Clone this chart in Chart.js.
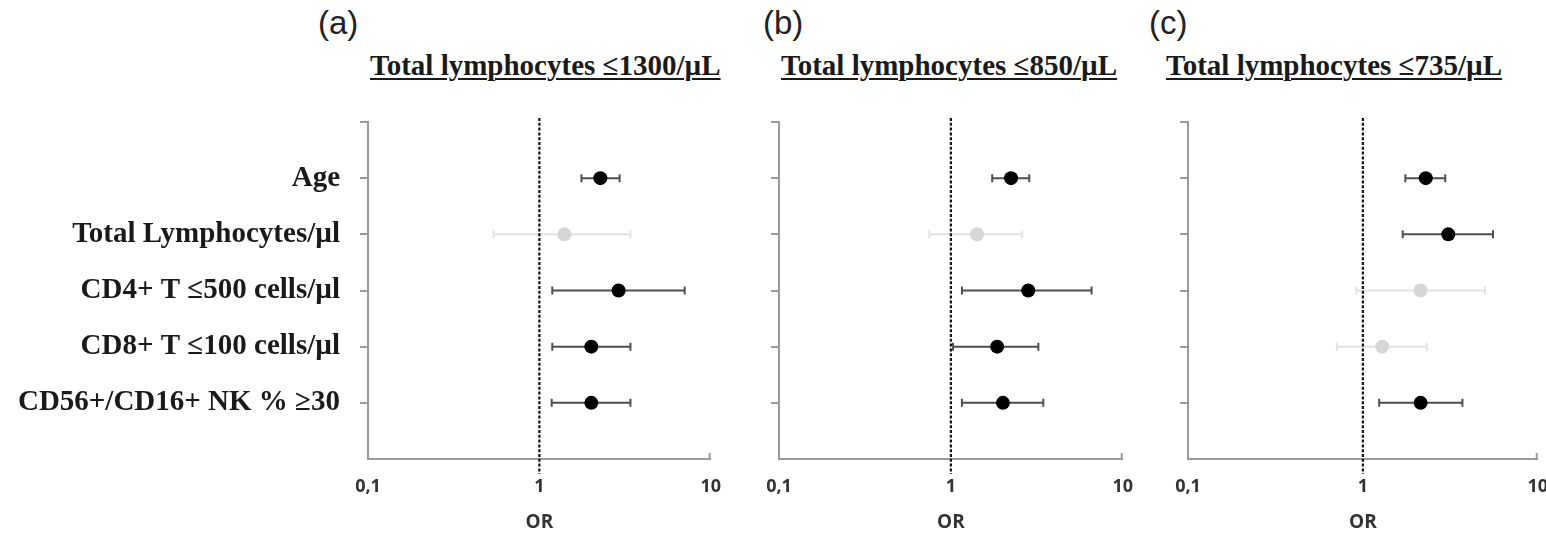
<!DOCTYPE html>
<html lang="en">
<head>
    <meta charset="UTF-8">
    <title>Odds ratios - total lymphocyte thresholds</title>
    <script src="https://cdn.jsdelivr.net/npm/chart.js@4.4.1/dist/chart.umd.min.js"></script>
    <style>
        body { margin: 0; width: 1546px; height: 534px; overflow: hidden; background: #fff; position: relative; }
        canvas { position: absolute; top: 0; }
        .letter { position: absolute; top: 5px; font-family: "Liberation Sans", Arial, sans-serif; font-size: 33px; line-height: 36px; color: #222; }
        .title { position: absolute; top: 49px; font-family: "Liberation Serif", "Times New Roman", serif; font-weight: bold; font-size: 29px; line-height: 33px; color: #1a1a1a; text-decoration: underline; text-decoration-thickness: 2px; text-underline-offset: 3px; white-space: nowrap; }
    </style>
</head>
<body>
    <div class="letter" style="left:318px">(a)</div>
    <div class="title" style="left:370px">Total lymphocytes ≤1300/µL</div>
    <div class="letter" style="left:763px">(b)</div>
    <div class="title" style="left:781px">Total lymphocytes ≤850/µL</div>
    <div class="letter" style="left:1149px">(c)</div>
    <div class="title" style="left:1166px">Total lymphocytes ≤735/µL</div>

    <canvas id="chartA" width="738" height="534" style="left:0"></canvas>
    <canvas id="chartB" width="420" height="534" style="left:730px"></canvas>
    <canvas id="chartC" width="425" height="534" style="left:1140px"></canvas>

    <script>
    // row labels, top to bottom
    const categories = ['Age', 'Total Lymphocytes/µl', 'CD4+ T ≤500 cells/µl', 'CD8+ T ≤100 cells/µl', 'CD56+/CD16+ NK % ≥30'];
    const tickValues = [0.1, 1, 10];
    const tickLabels = ['0,1', '1', '10'];

    // (a) total lymphocytes <= 1300/uL
    const orA   = [2.27, 1.40, 2.90, 2.01, 2.01];
    const lowA  = [1.76, 0.54, 1.19, 1.19, 1.18];
    const highA = [2.94, 3.40, 7.05, 3.40, 3.40];
    const sigA  = [1, 0, 1, 1, 1];

    // (b) total lymphocytes <= 850/uL
    const orB   = [2.24, 1.42, 2.82, 1.86, 2.01];
    const lowB  = [1.74, 0.75, 1.16, 1.03, 1.16];
    const highB = [2.86, 2.60, 6.59, 3.23, 3.45];
    const sigB  = [1, 0, 1, 1, 1];

    // (c) total lymphocytes <= 735/uL
    const orC   = [2.29, 3.08, 2.14, 1.29, 2.14];
    const lowC  = [1.75, 1.69, 0.92, 0.71, 1.24];
    const highC = [2.96, 5.55, 4.99, 2.32, 3.71];
    const sigC  = [1, 1, 0, 0, 1];

    const axisGray = '#9a9a9a';

    // error bars + dashed reference line at OR = 1
    const forestPlugin = {
        id: 'forest',
        beforeDatasetsDraw(chart, args, opts) {
            const ctx = chart.ctx;
            const x = chart.scales.x, y = chart.scales.y;
            ctx.save();
            ctx.lineWidth = 2;
            opts.low.forEach(function(lo, i) {
                const py = y.getPixelForValue(i + 1);
                const x0 = x.getPixelForValue(lo);
                const x1 = x.getPixelForValue(opts.high[i]);
                ctx.strokeStyle = opts.sig[i] ? '#4e4e4e' : '#e2e2e2';
                ctx.beginPath();
                ctx.moveTo(x0, py); ctx.lineTo(x1, py);
                ctx.moveTo(x0, py - 4); ctx.lineTo(x0, py + 4);
                ctx.moveTo(x1, py - 4); ctx.lineTo(x1, py + 4);
                ctx.stroke();
            });
            // small upward tick at the right end of the x axis
            ctx.strokeStyle = axisGray;
            ctx.beginPath();
            ctx.moveTo(x.right - 1, y.bottom); ctx.lineTo(x.right - 1, y.bottom - 6);
            ctx.stroke();
            // reference line
            const px = x.getPixelForValue(1);
            ctx.strokeStyle = '#111';
            ctx.lineWidth = 2.2;
            ctx.setLineDash([3, 1.8]);
            ctx.beginPath();
            ctx.moveTo(px, y.top - 4); ctx.lineTo(px, y.bottom + 15);
            ctx.stroke();
            ctx.restore();
        }
    };

    function makeChart(id, or, low, high, sig, showLabels, yWidth) {
        new Chart(document.getElementById(id), {
            type: 'scatter',
            data: {
                datasets: [{
                    data: or.map(function(v, i) { return { x: v, y: i + 1 }; }),
                    pointRadius: 7,
                    pointHoverRadius: 7,
                    pointBorderWidth: 0,
                    pointBackgroundColor: sig.map(function(s) { return s ? '#000' : '#d6d6d6'; })
                }]
            },
            options: {
                responsive: false,
                animation: false,
                events: [],
                layout: { padding: { top: 122, right: 0, bottom: 0, left: 0 } },
                plugins: {
                    legend: { display: false },
                    tooltip: { enabled: false },
                    forest: { low: low, high: high, sig: sig }
                },
                scales: {
                    x: {
                        type: 'logarithmic',
                        min: 0.1,
                        max: 10,
                        afterBuildTicks: function(s) { s.ticks = tickValues.map(function(v) { return { value: v }; }); },
                        afterFit: function(s) { s.height = 75; },
                        ticks: {
                            autoSkip: false,
                            maxRotation: 0,
                            padding: 17,
                            color: '#333',
                            font: { family: '"Open Sans", sans-serif', weight: 'bold', size: 18 },
                            callback: function(v) { return tickLabels[tickValues.indexOf(v)]; }
                        },
                        grid: { display: false, drawTicks: false },
                        border: { display: true, color: axisGray, width: 2 },
                        title: {
                            display: true,
                            text: 'OR',
                            color: '#333',
                            font: { family: '"Open Sans", sans-serif', weight: 'bold', size: 19 },
                            padding: { top: 0, bottom: 0 }
                        }
                    },
                    y: {
                        type: 'linear',
                        min: 0,
                        max: 6,
                        reverse: true,
                        afterBuildTicks: function(s) { s.ticks = [0, 1, 2, 3, 4, 5].map(function(v) { return { value: v }; }); },
                        afterFit: function(s) { s.width = yWidth; },
                        ticks: {
                            autoSkip: false,
                            padding: 20,
                            color: '#1a1a1a',
                            font: { family: '"Liberation Serif", serif', weight: 'bold', size: 29 },
                            callback: function(v) { return (showLabels && v >= 1 && v <= 5) ? categories[v - 1] : ''; }
                        },
                        grid: { drawOnChartArea: false, drawTicks: true, tickLength: 8, color: axisGray, lineWidth: 2 },
                        border: { display: true, color: axisGray, width: 2 }
                    }
                }
            },
            plugins: [forestPlugin]
        });
    }

    makeChart('chartA', orA, lowA, highA, sigA, true, 368);
    makeChart('chartB', orB, lowB, highB, sigB, false, 49);
    makeChart('chartC', orC, lowC, highC, sigC, false, 48);
    </script>
</body>
</html>
